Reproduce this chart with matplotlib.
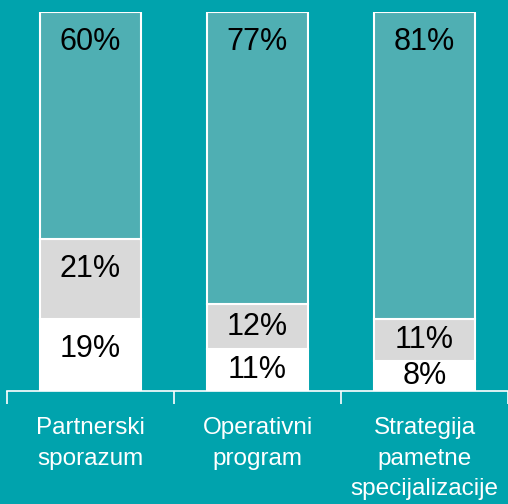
import matplotlib.pyplot as plt
import numpy as np

plt.rcParams['font.family'] = ['Liberation Sans', 'DejaVu Sans']

# data (percent shares, stacked bottom -> top)
categories = ["Partnerski\nsporazum", "Operativni\nprogram", "Strategija\npametne\nspecijalizacije"]
bottom_vals = [19, 11, 8]
middle_vals = [21, 12, 11]
top_vals = [60, 77, 81]

BG = "#00A3AD"
colors = ["#FFFFFF", "#D9D9D9", "#4FAFB3"]

fig = plt.figure(figsize=(5.08, 5.04), dpi=100, facecolor=BG)
ax = fig.add_axes([7 / 508, 113 / 504, 501 / 508, 379 / 504])
ax.set_facecolor(BG)

x = np.arange(len(categories))
base = np.zeros(len(categories))
for vals, col in zip([bottom_vals, middle_vals, top_vals], colors):
    vals = np.array(vals, dtype=float)
    ax.bar(x, vals, width=0.61, bottom=base, color=col,
           edgecolor="white", linewidth=1.5, zorder=2)
    for xi, b, v in zip(x, base, vals):
        top = b + v
        # label sits near the top of its segment, centred when the segment is small
        y = top - min(v / 2, 7.8)
        ax.text(xi, y, f"{v:.0f}%", ha="center", va="center",
                fontsize=22, color="black", zorder=3)
    base += vals

ax.set_xlim(-0.5, len(categories) - 0.5)
ax.set_ylim(0, 100)

for s in ["top", "right", "left"]:
    ax.spines[s].set_visible(False)
ax.spines["bottom"].set_color("white")
ax.spines["bottom"].set_linewidth(1.2)

ax.set_yticks([])
ax.set_xticks(x)
ax.set_xticklabels(categories, fontsize=17.5, color="white", linespacing=1.5)
ax.tick_params(axis="x", which="major", length=0, pad=19)
ax.set_xticks(np.arange(-0.5, len(categories)), minor=True)
ax.tick_params(axis="x", which="minor", length=9, width=1.2, color="white", direction="out")

fig.savefig("out.png", dpi=100, facecolor=BG)
